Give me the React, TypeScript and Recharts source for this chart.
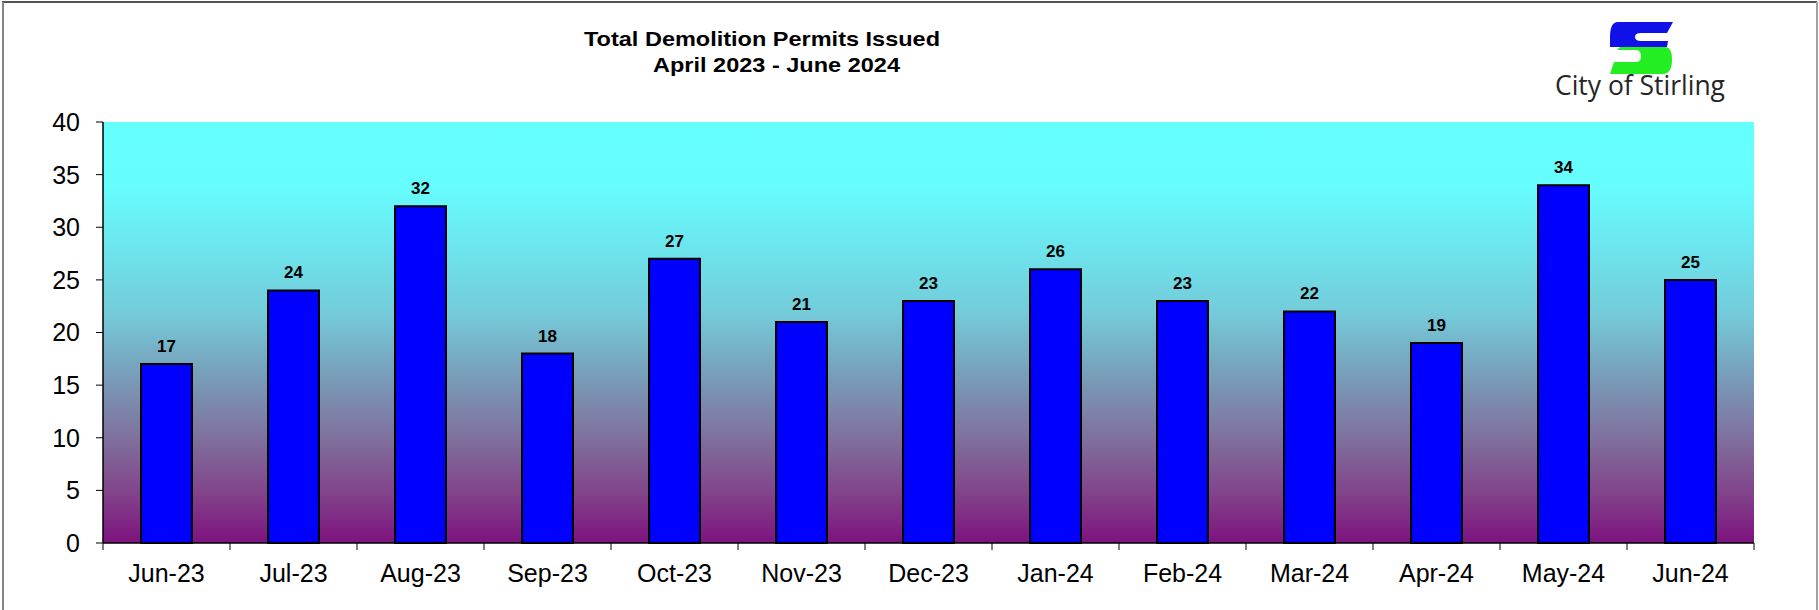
import React from 'react';
import { BarChart, Bar, XAxis, YAxis, CartesianGrid, LabelList } from 'recharts';

const months = ['Jun-23', 'Jul-23', 'Aug-23', 'Sep-23', 'Oct-23', 'Nov-23', 'Dec-23', 'Jan-24', 'Feb-24', 'Mar-24', 'Apr-24', 'May-24', 'Jun-24'];
const permits = [17, 24, 32, 18, 27, 21, 23, 26, 23, 22, 19, 34, 25];
const yTicks = [0, 5, 10, 15, 20, 25, 30, 35, 40];
const titleLine1 = 'Total Demolition Permits Issued';
const titleLine2 = 'April 2023 - June 2024';
const logoText = 'City of Stirling';

const data = months.map((m, i) => ({ month: m, permits: permits[i] }));

const FONT = '"Liberation Sans", Arial, sans-serif';

function XTick(props: any) {
  const { x, y, payload, width } = props;
  const half = payload && typeof payload.offset === 'number' && payload.offset > 0 ? payload.offset : width / (2 * months.length);
  const isLast = payload.value === months[months.length - 1];
  return (
    <g>
      <line x1={x - half} x2={x - half} y1={y} y2={y + 7} stroke="#000" strokeWidth={1} />
      {isLast && <line x1={x + half} x2={x + half} y1={y} y2={y + 7} stroke="#000" strokeWidth={1} />}
      <text x={x} y={y + 39} textAnchor="middle" fontSize={25} fontFamily={FONT} fill="#000">
        {payload.value}
      </text>
    </g>
  );
}

export default function App() {
  return (
    <div style={{ position: 'absolute', left: 0, top: 0, width: 1819, height: 610, background: '#fff', overflow: 'hidden' }}>
      <BarChart
        width={1819}
        height={610}
        data={data}
        margin={{ top: 122, right: 65, bottom: 0, left: 0 }}
        barCategoryGap="30%"
      >
        <defs>
          <linearGradient id="plotBg" x1="0" y1="0" x2="0" y2="1">
            <stop offset="0" stopColor="#66FFFF" />
            <stop offset="0.15" stopColor="#66FDFF" />
            <stop offset="0.45" stopColor="#74CCDA" />
            <stop offset="0.6" stopColor="#789EBA" />
            <stop offset="0.75" stopColor="#7F719D" />
            <stop offset="0.88" stopColor="#82448A" />
            <stop offset="1" stopColor="#7E1280" />
          </linearGradient>
        </defs>
        <CartesianGrid horizontal={false} vertical={false} fill="url(#plotBg)" fillOpacity={1} stroke="none" />
        <YAxis
          type="number"
          domain={[0, 40]}
          ticks={yTicks}
          width={103}
          tickSize={7}
          tickMargin={16}
          axisLine={{ stroke: '#000', strokeWidth: 1.5 }}
          tickLine={{ stroke: '#000', strokeWidth: 1 }}
          tick={{ fontSize: 25, fontFamily: FONT, fill: '#000' }}
          interval={0}
        />
        <XAxis
          dataKey="month"
          type="category"
          height={67}
          tickSize={0}
          tickMargin={0}
          tickLine={false}
          axisLine={{ stroke: '#000', strokeWidth: 1.5 }}
          tick={<XTick />}
          interval={0}
        />
        <Bar dataKey="permits" fill="#0000FF" stroke="#000" strokeWidth={2} barSize={51} isAnimationActive={false}>
          <LabelList dataKey="permits" position="top" offset={12} fontSize={17} fontWeight="bold" fontFamily={FONT} fill="#000" />
        </Bar>
      </BarChart>
      <svg width={1819} height={610} style={{ position: 'absolute', left: 0, top: 0, pointerEvents: 'none' }}>
        <text x={584} y={46} fontSize={20.5} fontWeight="bold" fontFamily={FONT} fill="#000" textLength={356} lengthAdjust="spacingAndGlyphs">
          {titleLine1}
        </text>
        <text x={653} y={72} fontSize={20.5} fontWeight="bold" fontFamily={FONT} fill="#000" textLength={247} lengthAdjust="spacingAndGlyphs">
          {titleLine2}
        </text>
        <g transform="translate(1605,18)">
          <path d="M 13 4 H 68 L 62 15 H 36 Q 30 15 30 19 Q 30 23 36 23 H 63 L 62 29 H 5 L 5 19 Q 5 4 13 4 Z" fill="#1010E8" />
          <path d="M 15 29 H 60 Q 67 29 67 41 Q 67 56 58 56 H 5 L 9 44 H 31 Q 36 44 36 38 Q 36 32 31 32 H 12 Z" fill="#22EE22" />
        </g>
        <text x={1555} y={95} fontSize={27} fontFamily='"Open Sans", "Noto Sans", sans-serif' fill="#262626" textLength={170} lengthAdjust="spacingAndGlyphs">
          {logoText}
        </text>
        <line x1={2} y1={2} x2={1817} y2={2} stroke="#1a1a1a" strokeWidth={1.5} />
        <line x1={3} y1={2} x2={3} y2={610} stroke="#858585" strokeWidth={2} />
        <line x1={1817} y1={2} x2={1817} y2={610} stroke="#a0a0a0" strokeWidth={2} />
      </svg>
    </div>
  );
}
